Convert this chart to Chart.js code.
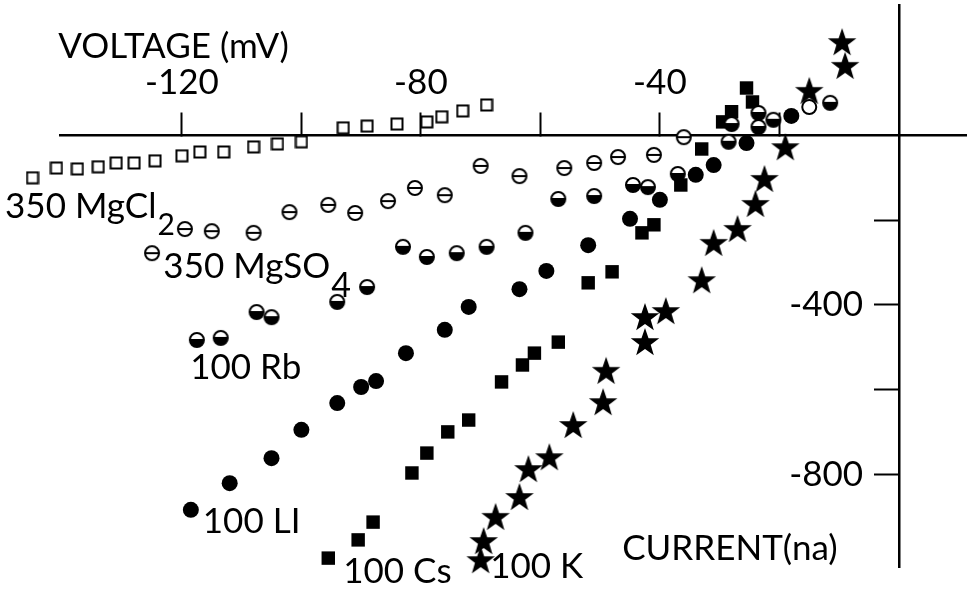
<!DOCTYPE html>
<html>
<head>
<meta charset="utf-8">
<script src="https://cdn.jsdelivr.net/npm/chart.js@4.4.1/dist/chart.umd.min.js"></script>
<style>
  html, body { margin: 0; padding: 0; background: #fff; overflow: hidden; }
  #wrap { width: 967px; height: 592px; }
</style>
</head>
<body>
<div id="wrap"><canvas id="iv-chart"></canvas></div>
<script>
// voltage (mV) and current (nA)
// MgCl2 runs from the origin outwards: unsorted x keeps the point left of
// the axis end from being dropped
var mgcl2Volt = [-69, -73, -76.5, -79, -84, -89, -93, -100, -104, -108, -113, -117, -120, -124.5, -128, -131, -134, -137.5, -141, -145];
var mgcl2Curr = [72, 58, 44, 32, 27, 22, 18, -15, -20, -27, -39, -39, -48, -60, -65, -65, -74, -79, -77, -100];

var mgso4Volt = [-125, -119.5, -115, -108, -102, -95.5, -91, -85.5, -81, -76, -70, -63.5, -56, -51, -47, -41, -36];
var mgso4Curr = [-278, -221, -226, -230, -181, -164, -183, -155, -124, -141, -72, -96, -77, -65, -51, -46, -4];

var rbVolt = [-117.5, -113.5, -107.5, -105, -94, -89, -83, -79, -74, -69, -62.5, -57, -51, -44.5, -42, -37, -28.5, -28, -23.5, -23.5, -21, -11.5];
var rbCurr = [-483, -478, -417, -429, -393, -358, -263, -287, -278, -263, -230, -150, -143, -117, -122, -91, -15, 27, 53, 20, 37, 77];

var liVolt = [-118.5, -112, -105, -100, -94, -90, -87.5, -82.5, -76, -72, -63.5, -59, -52, -45, -40, -34, -31, -25.5, -18];
var liCurr = [-884, -821, -762, -695, -632, -594, -580, -514, -459, -405, -363, -320, -259, -197, -152, -93, -70, -18, 46];

var csVolt = [-95.5, -90.5, -88, -81.5, -79, -75.5, -72, -66.5, -63, -61, -57, -52, -48, -43, -41, -36.5, -33, -29.5, -28, -25.5, -24.5];
var csCurr = [-998, -955, -913, -797, -750, -700, -672, -582, -542, -514, -488, -348, -322, -230, -211, -117, -32, 32, 56, 112, 79];

var kVolt = [-70, -69.5, -67.5, -63.5, -62, -58.5, -54.5, -49.5, -49, -42.5, -42.5, -39, -33, -31, -27, -24, -22.5, -19, -15, -9, -9.5];
var kCurr = [-1005, -960, -903, -856, -790, -762, -686, -632, -558, -490, -431, -417, -344, -256, -223, -164, -105, -30, 103, 162, 218];

var openVolt = [-15];
var openCurr = [67];

var voltTicks = [-120, -100, -80, -60, -40, -20];
var voltTickLabels = ['-120', '', '-80', '', '-40', ''];
var currTicks = [-800, -600, -400, -200];
var currTickLabels = ['-800', '', '-400', ''];

function pairs(xs, ys) {
  return xs.map(function (x, i) { return { x: x, y: ys[i] }; });
}

function makeSymbol(size, draw) {
  var c = document.createElement('canvas');
  c.width = size;
  c.height = size;
  draw(c.getContext('2d'), size / 2);
  return c;
}

// open square (MgCl2)
var openSquare = makeSymbol(14, function (g, m) {
  g.fillStyle = '#fff';
  g.fillRect(1, 1, 12, 12);
  g.lineWidth = 2;
  g.strokeStyle = '#000';
  g.strokeRect(1.5, 1.5, 11, 11);
});

// circle with a bar through it (MgSO4)
var barCircle = makeSymbol(18, function (g, m) {
  g.lineWidth = 2;
  g.strokeStyle = '#000';
  g.fillStyle = '#fff';
  g.beginPath(); g.arc(m, m, 7, 0, 2 * Math.PI); g.fill(); g.stroke();
  g.beginPath(); g.moveTo(m - 7, m); g.lineTo(m + 7, m); g.stroke();
});

// bottom half filled (Rb)
var halfCircle = makeSymbol(18, function (g, m) {
  g.fillStyle = '#fff';
  g.beginPath(); g.arc(m, m, 7, 0, 2 * Math.PI); g.fill();
  g.fillStyle = '#000';
  g.beginPath(); g.arc(m, m - 1, 7.5, 0, Math.PI); g.closePath(); g.fill();
  g.lineWidth = 2;
  g.strokeStyle = '#000';
  g.beginPath(); g.arc(m, m, 7, 0, 2 * Math.PI); g.stroke();
});

var star = makeSymbol(32, function (g, m) {
  g.fillStyle = '#000';
  g.beginPath();
  for (var i = 0; i < 10; i++) {
    var r = i % 2 ? 6 : 15;
    var a = -Math.PI / 2 + i * Math.PI / 5;
    g.lineTo(m + r * Math.cos(a), m + r * Math.sin(a));
  }
  g.closePath();
  g.fill();
});

// text written on the figure, anchored in data units (left, baseline)
var notes = [
  { text: 'VOLTAGE (mV)', v: -140.7, i: 183 },
  { text: '350 MgCl', v: -149.6, i: -195, sub: '2', subSize: 30, subDrop: 17 },
  { text: '350 MgSO', v: -123.1, i: -336, sub: '4', subSize: 34, subDrop: 19 },
  { text: '100 Rb', v: -118.6, i: -575 },
  { text: '100 LI', v: -116.5, i: -938 },
  { text: '100 Cs', v: -93.0, i: -1056 },
  { text: '100 K', v: -68.4, i: -1045 },
  { text: 'CURRENT(na)', v: -46.3, i: -1002 }
];

var FONT = 'Lato';

var notesPlugin = {
  id: 'notes',
  afterDraw: function (chart) {
    var ctx = chart.ctx;
    var sx = chart.scales.x, sy = chart.scales.y;
    ctx.save();
    ctx.fillStyle = '#000';
    ctx.textAlign = 'left';
    ctx.textBaseline = 'alphabetic';
    notes.forEach(function (n) {
      var px = sx.getPixelForValue(n.v);
      var py = sy.getPixelForValue(n.i);
      ctx.font = '35px ' + FONT;
      ctx.fillText(n.text, px, py);
      if (n.sub) {
        var w = ctx.measureText(n.text).width;
        ctx.font = n.subSize + 'px ' + FONT;
        ctx.fillText(n.sub, px + w + 1, py + n.subDrop);
      }
    });
    ctx.restore();
  }
};

function noPadding(s) {
  s.paddingTop = 0; s.paddingBottom = 0; s.paddingLeft = 0; s.paddingRight = 0;
}

var ctx = document.getElementById('iv-chart').getContext('2d');

new Chart(ctx, {
  type: 'scatter',
  data: {
    datasets: [{
      label: '350 MgCl2',
      data: pairs(mgcl2Volt, mgcl2Curr),
      pointStyle: openSquare,
      // image symbols ignore the radius when drawn; a big one stops the
      // point left of the axis end from being culled
      pointRadius: 30,
      clip: false
    }, {
      label: '350 MgSO4',
      data: pairs(mgso4Volt, mgso4Curr),
      pointStyle: barCircle,
      clip: false
    }, {
      label: '100 Rb',
      data: pairs(rbVolt, rbCurr),
      pointStyle: halfCircle,
      clip: false
    }, {
      label: '100 Li',
      data: pairs(liVolt, liCurr),
      pointStyle: 'circle',
      pointRadius: 8,
      backgroundColor: '#000',
      borderColor: '#000',
      borderWidth: 0,
      clip: false
    }, {
      label: '100 Cs',
      data: pairs(csVolt, csCurr),
      pointStyle: 'rect',
      pointRadius: 9.5,
      backgroundColor: '#000',
      borderColor: '#000',
      borderWidth: 0,
      clip: false
    }, {
      label: '100 K',
      data: pairs(kVolt, kCurr),
      pointStyle: star,
      clip: false
    }, {
      label: 'open',
      data: pairs(openVolt, openCurr),
      pointStyle: 'circle',
      pointRadius: 7,
      backgroundColor: '#fff',
      borderColor: '#000',
      borderWidth: 2,
      clip: false
    }]
  },
  options: {
    responsive: true,
    maintainAspectRatio: false,
    animation: false,
    events: [],
    layout: { autoPadding: false, padding: { left: 60, right: 0, top: 5, bottom: 25 } },
    plugins: {
      legend: { display: false },
      tooltip: { enabled: false }
    },
    scales: {
      x: {
        type: 'linear',
        min: -140.4,
        max: 11.4,
        position: { y: 0 },
        afterBuildTicks: function (s) {
          s.ticks = voltTicks.map(function (v) { return { value: v }; });
        },
        afterFit: noPadding,
        border: { color: '#000', width: 2.5 },
        grid: { drawOnChartArea: false, drawTicks: true, tickLength: -24, tickColor: '#000', tickWidth: 2 },
        ticks: {
          autoSkip: false,
          maxRotation: 0,
          padding: -50,
          color: '#000',
          font: { family: FONT, size: 35 },
          callback: function (v, i) { return voltTickLabels[i]; }
        }
      },
      y: {
        type: 'linear',
        min: -1019,
        max: 308,
        position: { x: 0 },
        afterBuildTicks: function (s) {
          s.ticks = currTicks.map(function (v) { return { value: v }; });
        },
        afterFit: noPadding,
        border: { color: '#000', width: 2.5 },
        grid: { drawOnChartArea: false, drawTicks: true, tickLength: 24, tickColor: '#000', tickWidth: 2 },
        ticks: {
          autoSkip: false,
          color: '#000',
          font: { family: FONT, size: 35 },
          // labels sit right-aligned on the axis line, so pad them with spaces
          callback: function (v, i) { return currTickLabels[i] ? currTickLabels[i] + '    ' : ''; }
        }
      }
    }
  },
  plugins: [notesPlugin]
});
</script>
</body>
</html>
